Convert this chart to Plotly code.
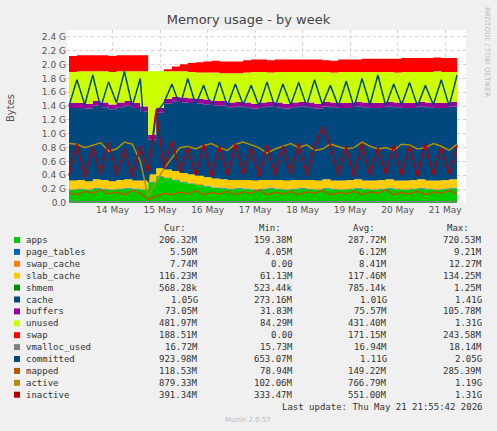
import plotly.graph_objects as go
import pandas as pd

# 4-hourly samples, 13 May 02:00 -> 21 May 06:00 (values in GB)
times = pd.date_range("2026-05-13 02:00", periods=50, freq="4h")

apps = [0.19, 0.20, 0.19, 0.21, 0.20, 0.19, 0.20, 0.21, 0.20, 0.19,
        0.30, 0.38, 0.36, 0.33, 0.30, 0.28, 0.26, 0.24, 0.22, 0.21,
        0.20, 0.21, 0.20, 0.19, 0.20, 0.21, 0.20, 0.19, 0.20, 0.21,
        0.20, 0.19, 0.21, 0.20, 0.19, 0.20, 0.21, 0.20, 0.19, 0.20,
        0.21, 0.20, 0.19, 0.20, 0.21, 0.20, 0.19, 0.20, 0.21, 0.20]
page_tables = [0.0055] * 50
swap_cache = [0.008] * 50
slab_cache = [0.12, 0.12, 0.11, 0.12, 0.12, 0.11, 0.12, 0.12, 0.11, 0.12,
              0.10, 0.11, 0.11, 0.12, 0.12, 0.12, 0.12, 0.12, 0.12, 0.12,
              0.12, 0.11, 0.12, 0.12, 0.12, 0.11, 0.12, 0.12, 0.12, 0.11,
              0.12, 0.12, 0.12, 0.11, 0.12, 0.12, 0.12, 0.11, 0.12, 0.12,
              0.12, 0.11, 0.12, 0.12, 0.12, 0.11, 0.12, 0.12, 0.12, 0.12]
shmem = [0.0006] * 50
cache = [1.05, 1.04, 1.05, 1.06, 1.05, 1.04, 1.05, 1.06, 1.05, 1.00,
         0.50, 0.80, 0.95, 1.00, 1.02, 1.03, 1.04, 1.05, 1.05, 1.06,
         1.05, 1.06, 1.05, 1.04, 1.05, 1.06, 1.05, 1.04, 1.05, 1.06,
         1.05, 1.04, 1.05, 1.06, 1.05, 1.04, 1.05, 1.06, 1.05, 1.04,
         1.05, 1.06, 1.05, 1.04, 1.05, 1.06, 1.05, 1.04, 1.05, 1.05]
buffers = [0.07] * 50
unused = [0.45, 0.46, 0.47, 0.43, 0.45, 0.47, 0.45, 0.43, 0.46, 0.51,
          0.92, 0.53, 0.40, 0.37, 0.38, 0.38, 0.38, 0.39, 0.41, 0.40,
          0.42, 0.41, 0.43, 0.46, 0.44, 0.42, 0.44, 0.46, 0.44, 0.43,
          0.44, 0.46, 0.43, 0.43, 0.45, 0.45, 0.43, 0.44, 0.45, 0.45,
          0.43, 0.43, 0.45, 0.45, 0.43, 0.44, 0.46, 0.45, 0.43, 0.44]
swap = [0.23, 0.23, 0.23, 0.23, 0.23, 0.23, 0.23, 0.23, 0.23, 0.23,
        0.00, 0.00, 0.03, 0.07, 0.10, 0.13, 0.15, 0.16, 0.17, 0.17,
        0.17, 0.17, 0.18, 0.18, 0.18, 0.18, 0.18, 0.18, 0.18, 0.18,
        0.18, 0.18, 0.17, 0.17, 0.18, 0.18, 0.18, 0.19, 0.19, 0.19,
        0.19, 0.20, 0.20, 0.20, 0.20, 0.20, 0.20, 0.20, 0.20, 0.19]

vmalloc_used = [0.017] * 50
committed = [1.40, 1.78, 1.42, 1.85, 1.38, 1.75, 1.45, 1.90, 1.40, 1.80,
             0.30, 1.30, 1.45, 1.72, 1.40, 1.80, 1.42, 1.70, 1.38, 1.75,
             1.40, 1.72, 1.42, 1.70, 1.40, 1.75, 1.38, 1.72, 1.42, 1.74,
             1.40, 1.78, 1.42, 1.70, 1.40, 1.76, 1.38, 1.80, 1.42, 1.85,
             1.40, 1.72, 1.42, 1.74, 1.40, 1.70, 1.42, 1.78, 1.40, 1.85]
mapped = [0.15, 0.12, 0.17, 0.14, 0.19, 0.13, 0.16, 0.12, 0.18, 0.14,
          0.05, 0.10, 0.14, 0.12, 0.16, 0.13, 0.18, 0.12, 0.15, 0.13,
          0.17, 0.12, 0.16, 0.14, 0.19, 0.12, 0.15, 0.13, 0.17, 0.12,
          0.16, 0.14, 0.18, 0.12, 0.15, 0.13, 0.17, 0.12, 0.16, 0.14,
          0.19, 0.12, 0.15, 0.13, 0.17, 0.12, 0.16, 0.14, 0.18, 0.13]
active = [0.86, 0.85, 0.80, 0.84, 0.87, 0.75, 0.78, 0.88, 0.85, 0.60,
          0.10, 0.30, 0.50, 0.65, 0.80, 0.82, 0.78, 0.83, 0.86, 0.80,
          0.76, 0.85, 0.88, 0.84, 0.80, 0.72, 0.78, 0.82, 0.86, 0.80,
          0.84, 0.76, 0.78, 0.85, 0.82, 0.78, 0.80, 0.88, 0.82, 0.78,
          0.80, 0.76, 0.85, 0.84, 0.78, 0.80, 0.86, 0.82, 0.76, 0.85]
inactive = [0.40, 0.85, 0.38, 0.80, 0.42, 0.88, 0.40, 0.78, 0.38, 0.82,
            0.45, 1.35, 0.50, 0.90, 0.45, 0.80, 0.40, 0.85, 0.38, 0.82,
            0.40, 0.86, 0.42, 0.80, 0.38, 0.84, 0.40, 0.82, 0.42, 0.86,
            0.40, 0.80, 1.10, 0.84, 0.40, 0.82, 0.38, 0.86, 0.40, 0.80,
            0.42, 0.84, 0.40, 0.82, 0.38, 0.86, 0.40, 0.80, 0.42, 0.84]

legend_rows = [
    ("apps", "#00CC00", "206.32M", "159.38M", "287.72M", "720.53M"),
    ("page_tables", "#0066B3", "5.50M", "4.05M", "6.12M", "9.21M"),
    ("swap_cache", "#FF8000", "7.74M", "0.00", "8.41M", "12.27M"),
    ("slab_cache", "#FFCC00", "116.23M", "61.13M", "117.46M", "134.25M"),
    ("shmem", "#008F00", "568.28k", "523.44k", "785.14k", "1.25M"),
    ("cache", "#00487D", "1.05G", "273.16M", "1.01G", "1.41G"),
    ("buffers", "#990099", "73.05M", "31.83M", "75.57M", "105.78M"),
    ("unused", "#CCFF00", "481.97M", "84.29M", "431.40M", "1.31G"),
    ("swap", "#FF0000", "188.51M", "0.00", "171.15M", "243.58M"),
    ("vmalloc_used", "#808080", "16.72M", "15.73M", "16.94M", "18.14M"),
    ("committed", "#00487D", "923.98M", "653.07M", "1.11G", "2.05G"),
    ("mapped", "#B35A00", "118.53M", "78.94M", "149.22M", "285.39M"),
    ("active", "#B38F00", "879.33M", "102.06M", "766.79M", "1.19G"),
    ("inactive", "#B30000", "391.34M", "333.47M", "551.00M", "1.31G"),
]

fig = go.Figure()

areas = [("apps", apps, "#00CC00"), ("page_tables", page_tables, "#0066B3"),
         ("swap_cache", swap_cache, "#FF8000"), ("slab_cache", slab_cache, "#FFCC00"),
         ("shmem", shmem, "#008F00"), ("cache", cache, "#00487D"),
         ("buffers", buffers, "#990099"), ("unused", unused, "#CCFF00"),
         ("swap", swap, "#FF0000")]
for name, vals, col in areas:
    fig.add_trace(go.Scatter(x=times, y=vals, name=name, stackgroup="mem",
                             mode="none", fillcolor=col, line_shape="hv"))

lines = [("vmalloc_used", vmalloc_used, "#808080"), ("committed", committed, "#00487D"),
         ("mapped", mapped, "#B35A00"), ("active", active, "#B38F00"),
         ("inactive", inactive, "#B30000")]
for name, vals, col in lines:
    fig.add_trace(go.Scatter(x=times, y=vals, name=name, mode="lines",
                             line=dict(color=col, width=1.5)))

# plot area in pixels: x 67..466, y 30..203
PX0, PX1, PY0, PY1 = 67, 466, 30, 203


def px(x):
    return (x - PX0) / (PX1 - PX0)


def py(y):
    return (PY1 - y) / (PY1 - PY0)


mono = "DejaVu Sans Mono"
ann = []
shapes = []
y_first = 240
dy = 11.9
cols_x = [199, 294, 388, 483]
for xx, t in zip([187, 282, 376, 470], ["Cur:", "Min:", "Avg:", "Max:"]):
    ann.append((xx, 228, t, "right"))
for k, (name, col, cur, mn, av, mx) in enumerate(legend_rows):
    yy = y_first + k * dy
    ann.append((25, yy, name, "left"))
    for xx, t in zip(cols_x, [cur, mn, av, mx]):
        ann.append((xx, yy, t, "right"))
    shapes.append(dict(type="rect", xref="paper", yref="paper",
                       x0=px(14), x1=px(20), y0=py(yy + 3), y1=py(yy - 3),
                       fillcolor=col, line=dict(color=col, width=0)))
annotations = []
for xx, yy, t, anc in ann:
    annotations.append(dict(xref="paper", yref="paper", x=px(xx), y=py(yy),
                            text=t, showarrow=False, xanchor=anc, yanchor="middle",
                            borderpad=0,
                            font=dict(family=mono, size=9, color="#333333")))
annotations.append(dict(xref="paper", yref="paper", x=px(483), y=py(407),
                        text="Last update: Thu May 21 21:55:42 2026", showarrow=False,
                        xanchor="right", yanchor="middle", borderpad=0,
                        font=dict(family=mono, size=9, color="#333333")))
annotations.append(dict(xref="paper", yref="paper", x=px(248), y=py(420),
                        text="Munin 2.0.57", showarrow=False, xanchor="center",
                        yanchor="middle", font=dict(family="DejaVu Sans", size=7, color="#bbbbbb")))
annotations.append(dict(xref="paper", yref="paper", x=px(487), y=py(5),
                        text="RRDTOOL / TOBI OETIKER", showarrow=False, textangle=90,
                        xanchor="center", yanchor="top",
                        font=dict(family="DejaVu Sans", size=7, color="#bbbbbb")))
annotations.append(dict(xref="paper", yref="paper", x=px(10), y=py(108),
                        text="Bytes", showarrow=False, textangle=-90,
                        xanchor="center", yanchor="middle",
                        font=dict(family="DejaVu Sans", size=10, color="#555555")))

yt = [i * 0.2 for i in range(13)]
ytext = ["0.0"] + [f"{v:.1f} G" for v in yt[1:]]

fig.update_layout(
    width=497, height=431,
    margin=dict(l=PX0, r=497 - PX1, t=PY0, b=431 - PY1, autoexpand=False),
    paper_bgcolor="#F0F0F0", plot_bgcolor="#FFFFFF",
    showlegend=False,
    title=dict(text="Memory usage - by week", x=0.5, y=0.965, xanchor="center",
               font=dict(family="DejaVu Sans", size=13, color="#444444")),
    annotations=annotations, shapes=shapes,
    font=dict(family="DejaVu Sans", size=9, color="#555555"),
)
fig.update_xaxes(range=["2026-05-13 01:00", "2026-05-21 10:30"],
                 tickvals=pd.date_range("2026-05-14", periods=8, freq="D"),
                 ticktext=[f"{d} May" for d in range(14, 22)],
                 showgrid=True, gridcolor="#F2C8C8", griddash="dot", ticks="",
                 zeroline=False, showline=False, automargin=False)
fig.update_yaxes(range=[0, 2.5], tickvals=yt, ticktext=ytext,
                 showgrid=True, gridcolor="#F2C8C8", griddash="dot", ticks="",
                 zeroline=False, showline=False, automargin=False)

# drop the default 8px page margin so the figure fills the window
fig.write_html("out.html", config={"displayModeBar": False},
               post_script="document.body.style.margin='0';")
